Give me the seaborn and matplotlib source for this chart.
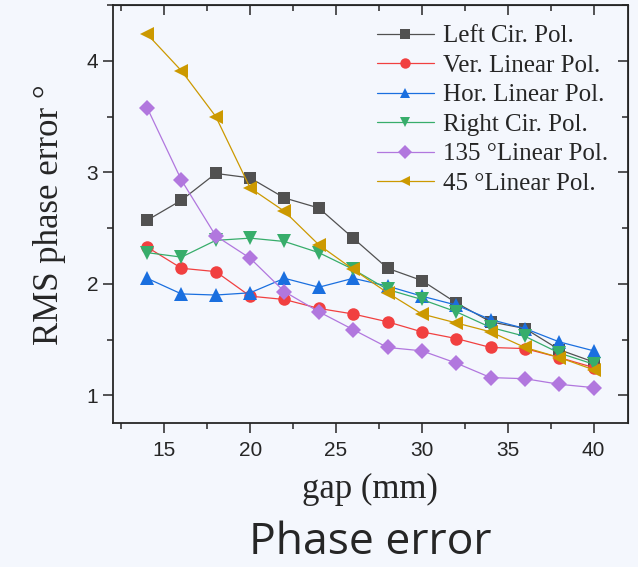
import matplotlib
matplotlib.use("Agg")
from matplotlib import pyplot as plt
import pandas as pd
import seaborn as sns

sns.set_style("ticks")

# gap values (mm)
gap = [14, 16, 18, 20, 22, 24, 26, 28, 30, 32, 34, 36, 38, 40]

left_cir = [2.57, 2.75, 2.99, 2.95, 2.77, 2.68, 2.41, 2.14, 2.03, 1.83, 1.66, 1.60, 1.41, 1.30]
ver_lin = [2.33, 2.14, 2.11, 1.89, 1.86, 1.78, 1.73, 1.66, 1.57, 1.51, 1.43, 1.42, 1.34, 1.25]
hor_lin = [2.05, 1.91, 1.90, 1.92, 2.05, 1.97, 2.05, 1.98, 1.89, 1.81, 1.68, 1.60, 1.48, 1.40]
right_cir = [2.28, 2.24, 2.39, 2.41, 2.38, 2.28, 2.13, 1.95, 1.86, 1.75, 1.61, 1.53, 1.38, 1.28]
lin_135 = [3.58, 2.93, 2.43, 2.23, 1.93, 1.75, 1.59, 1.43, 1.40, 1.29, 1.16, 1.15, 1.10, 1.07]
lin_45 = [4.24, 3.91, 3.50, 2.86, 2.65, 2.35, 2.13, 1.92, 1.73, 1.65, 1.57, 1.43, 1.34, 1.23]

names = ["Left Cir. Pol.", "Ver. Linear Pol.", "Hor. Linear Pol.",
         "Right Cir. Pol.", "135 \u00b0Linear Pol.", "45 \u00b0Linear Pol."]
series = [left_cir, ver_lin, hor_lin, right_cir, lin_135, lin_45]
colors = ["#515151", "#F14040", "#1A6FDF", "#37AD6B", "#B177DE", "#CC9900"]
marks = ["s", "o", "^", "v", "D", "<"]

df = pd.concat([pd.DataFrame({"gap": gap, "rms": v, "pol": n}) for n, v in zip(names, series)])

bg = "#F4F7FD"
fig, ax = plt.subplots(figsize=(6.38, 5.67), dpi=100)
fig.patch.set_facecolor(bg)
ax.set_facecolor(bg)
fig.subplots_adjust(left=0.1767, right=0.9843, top=0.9912, bottom=0.2534)

sns.lineplot(data=df, x="gap", y="rms", hue="pol", style="pol",
             palette=dict(zip(names, colors)), markers=dict(zip(names, marks)),
             dashes=False, hue_order=names, style_order=names,
             linewidth=0.9, markersize=9, markeredgewidth=0, ax=ax)

# triangles look small next to squares/circles, bump them up
for ln in ax.lines:
    if ln.get_marker() in ("^", "v", "<"):
        ln.set_markersize(10.5)
    elif ln.get_marker() == "D":
        ln.set_markersize(8)

ax.set_xlim(12, 42)
ax.set_ylim(0.75, 4.5)
ax.set_xticks([15, 20, 25, 30, 35, 40])
ax.set_yticks([1, 2, 3, 4])
ax.xaxis.set_minor_locator(matplotlib.ticker.MultipleLocator(2.5))
ax.yaxis.set_minor_locator(matplotlib.ticker.MultipleLocator(0.5))
ax.tick_params(which="both", direction="out", width=1.1, labelsize=15)
ax.tick_params(which="major", length=7)
ax.tick_params(which="minor", length=4)
ax.tick_params(axis="x", pad=6)
for lab in ax.get_xticklabels() + ax.get_yticklabels():
    lab.set_family("Liberation Sans")
for s in ax.spines.values():
    s.set_linewidth(1.3)

# inward ticks on top and right
top = ax.secondary_xaxis("top")
top.set_xticks([15, 20, 25, 30, 35, 40])
top.xaxis.set_minor_locator(matplotlib.ticker.MultipleLocator(2.5))
top.tick_params(which="both", direction="in", width=1.1, labeltop=False)
top.tick_params(which="major", length=7)
top.tick_params(which="minor", length=4)
right = ax.secondary_yaxis("right")
right.set_yticks([1, 2, 3, 4])
right.yaxis.set_minor_locator(matplotlib.ticker.MultipleLocator(0.5))
right.tick_params(which="both", direction="in", width=1.1, labelright=False)
right.tick_params(which="major", length=7)
right.tick_params(which="minor", length=4)

ax.set_xlabel("gap (mm)", family="Liberation Serif", fontsize=25, labelpad=9)
ax.set_ylabel("RMS phase error \u00b0", family="Liberation Serif", fontsize=25, labelpad=15)

handles, labels = ax.get_legend_handles_labels()
leg = ax.legend(handles, labels, loc="upper right", bbox_to_anchor=(1.0, 1.0),
                frameon=False, prop={"family": "Liberation Serif", "size": 18},
                handlelength=2.3, handletextpad=0.35, labelspacing=0.28,
                borderaxespad=0.4)
for h in leg.legend_handles:
    h.set_markersize(7.5)
    h.set_linewidth(0.9)

fig.text(370 / 638, 1 - 554 / 567, "Phase error", family="Open Sans",
         fontsize=32, ha="center", va="baseline")

plt.savefig("out.png", dpi=100, facecolor=bg)
